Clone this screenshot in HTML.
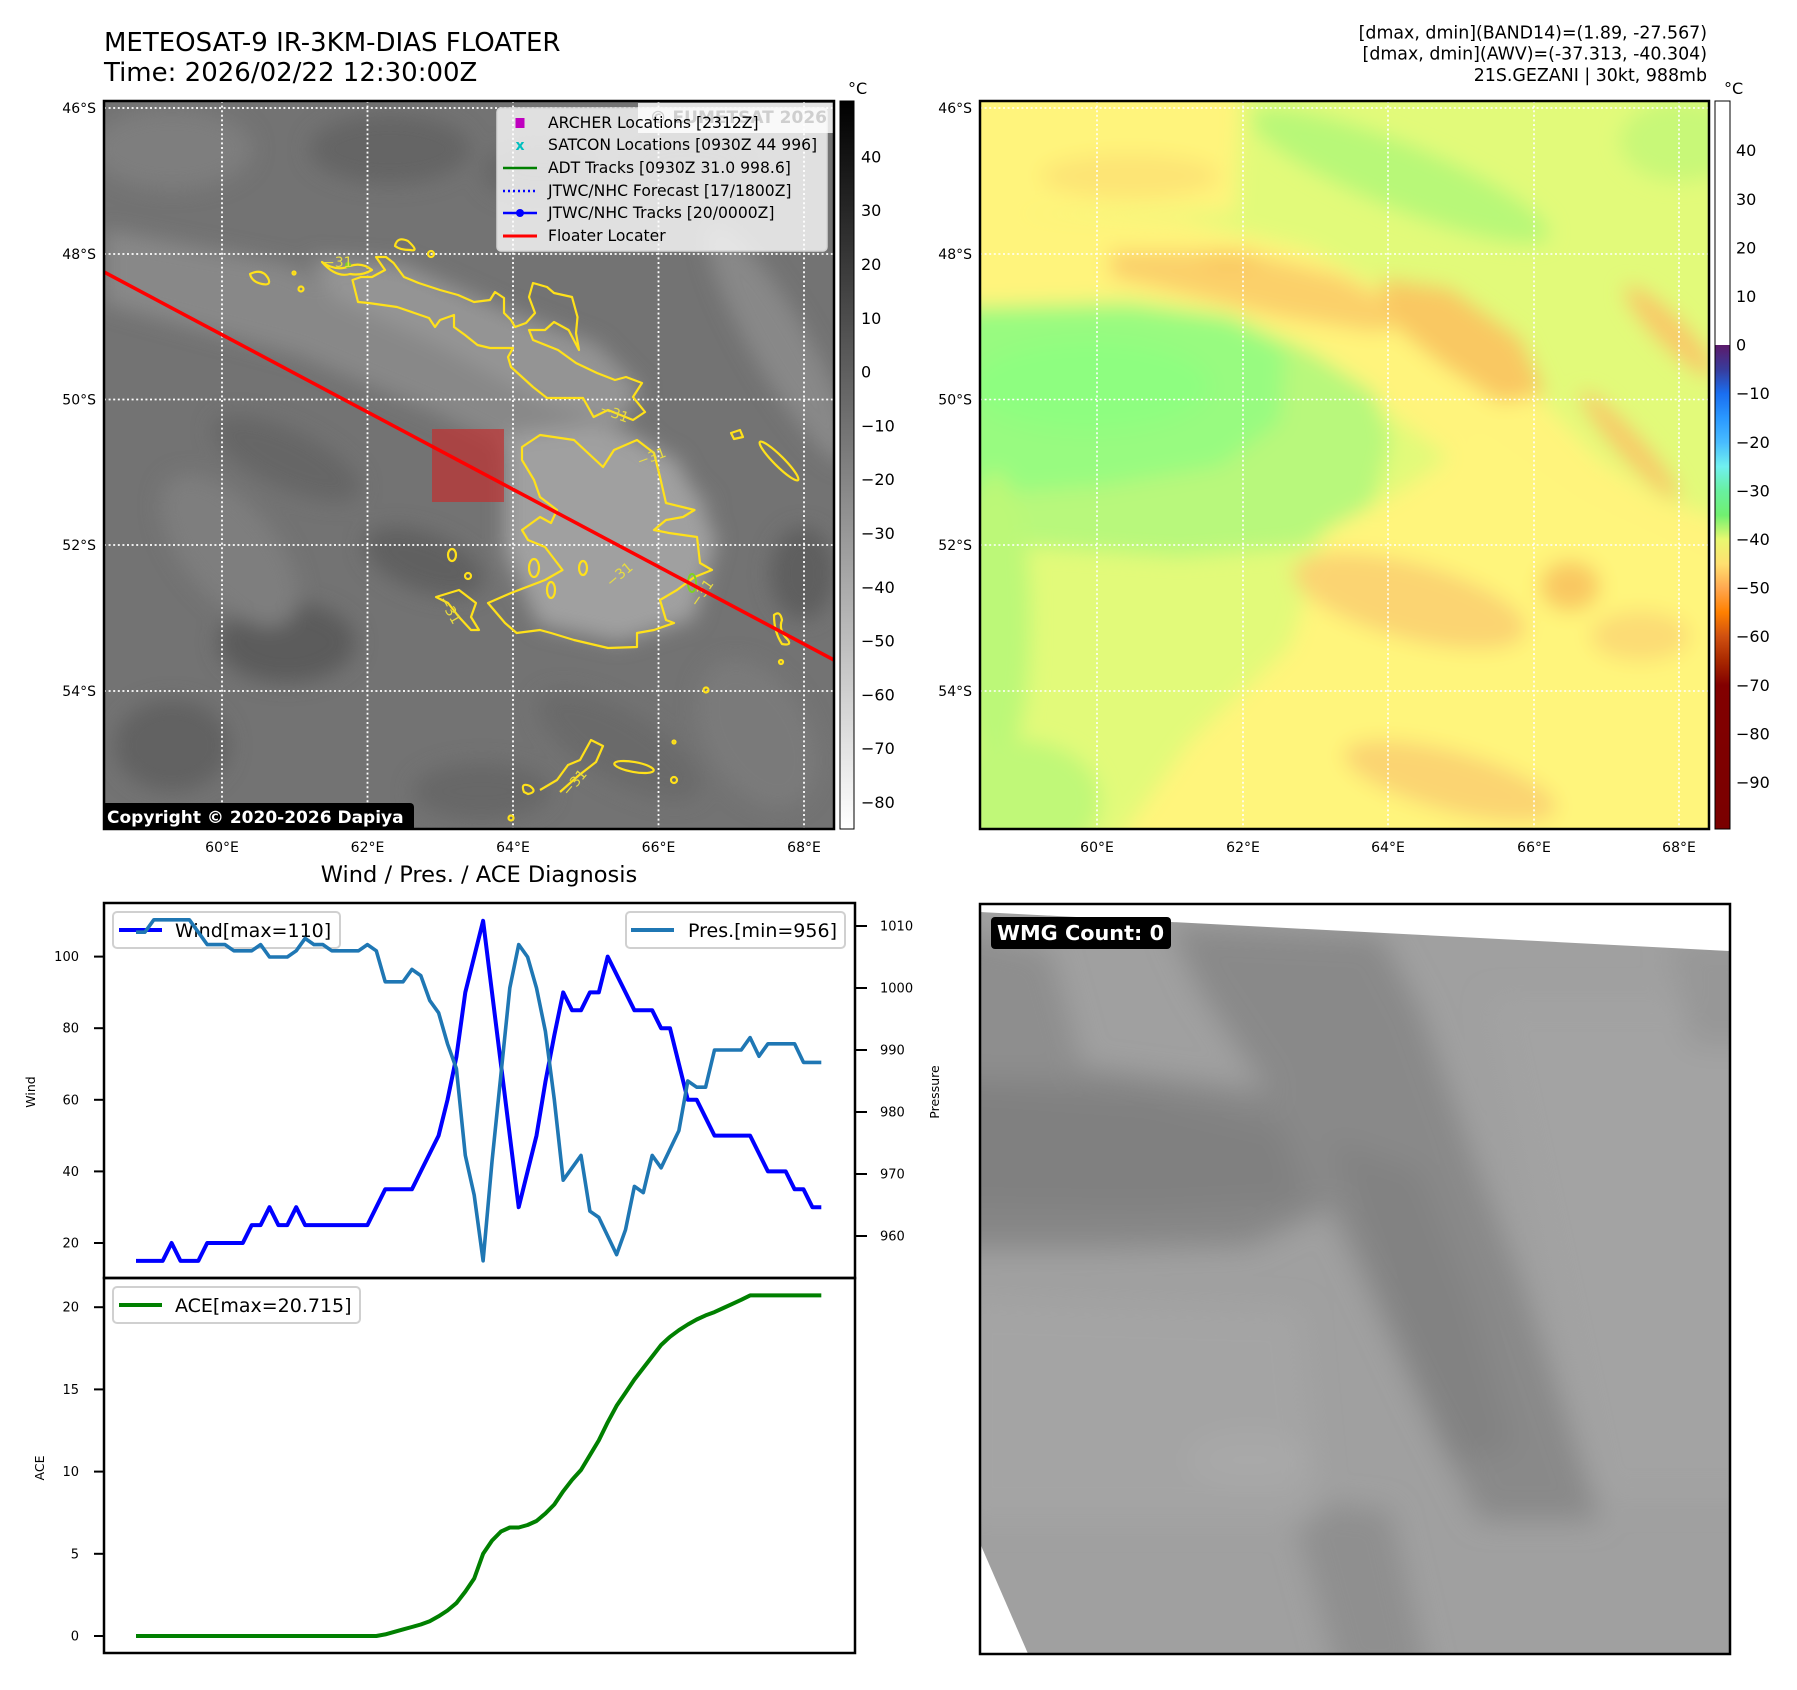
<!DOCTYPE html>
<html><head><meta charset="utf-8"><style>
html,body{margin:0;padding:0;background:#fff;}
svg{display:block;}
text{font-family:"DejaVu Sans","Liberation Sans",sans-serif;}
</style></head><body>
<svg width="1797" height="1690" viewBox="0 0 1797 1690" xmlns="http://www.w3.org/2000/svg">
<defs>
<filter id="b12" x="-20%" y="-20%" width="140%" height="140%"><feGaussianBlur stdDeviation="10"/></filter>
<filter id="b14" x="-20%" y="-20%" width="140%" height="140%"><feGaussianBlur stdDeviation="14"/></filter>
<clipPath id="cL"><rect x="104" y="101" width="730" height="728"/></clipPath>
<clipPath id="cR"><rect x="980" y="101" width="729" height="728"/></clipPath>
<clipPath id="cB"><rect x="980" y="904" width="750" height="750"/></clipPath>
<linearGradient id="gL" gradientUnits="userSpaceOnUse" x1="0" y1="101" x2="0" y2="829">
<stop offset="0" stop-color="#000"/><stop offset="1" stop-color="#fff"/></linearGradient>
<linearGradient id="gR" gradientUnits="userSpaceOnUse" x1="0" y1="101" x2="0" y2="829">
<stop offset="0" stop-color="#fff"/><stop offset="0.3351" stop-color="#fff"/>
<stop offset="0.3352" stop-color="#5c1a6a"/><stop offset="0.3686" stop-color="#383c9c"/>
<stop offset="0.4019" stop-color="#1a6ef0"/><stop offset="0.4353" stop-color="#2a98ff"/>
<stop offset="0.4687" stop-color="#48bcff"/><stop offset="0.502" stop-color="#70f0f0"/>
<stop offset="0.5354" stop-color="#68f0a0"/><stop offset="0.5688" stop-color="#70f070"/>
<stop offset="0.6022" stop-color="#e8f870"/><stop offset="0.6356" stop-color="#ffe070"/>
<stop offset="0.669" stop-color="#ffa850"/><stop offset="0.7023" stop-color="#ff8000"/>
<stop offset="0.7357" stop-color="#d05010"/><stop offset="0.769" stop-color="#a82800"/>
<stop offset="0.8024" stop-color="#820000"/><stop offset="1" stop-color="#7a0000"/>
</linearGradient>
</defs>

<!-- Titles -->
<text x="104" y="51" font-size="26">METEOSAT-9 IR-3KM-DIAS FLOATER</text>
<text x="104" y="81" font-size="26">Time: 2026/02/22 12:30:00Z</text>
<text x="1707" y="38.5" font-size="17.4" text-anchor="end">[dmax, dmin](BAND14)=(1.89, -27.567)</text>
<text x="1707" y="59.5" font-size="17.4" text-anchor="end">[dmax, dmin](AWV)=(-37.313, -40.304)</text>
<text x="1707" y="81" font-size="17.4" text-anchor="end">21S.GEZANI | 30kt, 988mb</text>

<!-- ============ LEFT MAP (IR) ============ -->
<g clip-path="url(#cL)">
<rect x="104" y="101" width="730" height="728" fill="#737373"/>
<g filter="url(#b12)">
<g transform="scale(1.1468)">
<ellipse cx="150" cy="130" rx="70" ry="35" fill="#7e7e7e"/>
<ellipse cx="340" cy="130" rx="70" ry="30" fill="#656565"/>
<ellipse cx="470" cy="150" rx="50" ry="25" fill="#686868"/>
<ellipse cx="600" cy="140" rx="60" ry="25" fill="#6c6c6c"/>
<polygon points="91,200 250,230 350,280 450,330 560,380 620,440 600,470 500,420 380,360 260,310 91,265" fill="#888"/>
<polygon points="270,225 350,230 440,270 520,300 560,340 540,370 470,350 380,300 290,260" fill="#949494"/>
<polygon points="440,380 520,370 590,400 625,470 605,540 540,560 470,545 440,480" fill="#a0a0a0"/>
<ellipse cx="250" cy="560" rx="60" ry="35" fill="#5c5c5c"/>
<ellipse cx="370" cy="490" rx="55" ry="25" transform="rotate(20 370 490)" fill="#606060"/>
<ellipse cx="150" cy="650" rx="50" ry="40" fill="#626262"/>
<ellipse cx="250" cy="400" rx="70" ry="25" transform="rotate(25 250 400)" fill="#666"/>
<ellipse cx="540" cy="650" rx="80" ry="30" transform="rotate(30 540 650)" fill="#6a6a6a"/>
<ellipse cx="420" cy="690" rx="60" ry="25" fill="#676767"/>
<ellipse cx="700" cy="500" rx="28" ry="40" fill="#5e5e5e"/>
<ellipse cx="680" cy="300" rx="25" ry="120" transform="rotate(-30 680 300)" fill="#888"/>
<ellipse cx="200" cy="480" rx="40" ry="80" transform="rotate(-40 200 480)" fill="#7e7e7e"/>
<ellipse cx="660" cy="640" rx="45" ry="70" transform="rotate(-30 660 640)" fill="#7a7a7a"/>
</g></g>
<g stroke="#fff" stroke-width="1.8" stroke-dasharray="2 2.6">
<line x1="104" y1="108" x2="834" y2="108"/><line x1="104" y1="254" x2="834" y2="254"/>
<line x1="104" y1="399.5" x2="834" y2="399.5"/><line x1="104" y1="545" x2="834" y2="545"/>
<line x1="104" y1="691" x2="834" y2="691"/>
<line x1="222" y1="101" x2="222" y2="829"/><line x1="367.5" y1="101" x2="367.5" y2="829"/>
<line x1="513" y1="101" x2="513" y2="829"/><line x1="658.5" y1="101" x2="658.5" y2="829"/>
<line x1="804" y1="101" x2="804" y2="829"/>
</g>
<g fill="none" stroke="#ffe11a" stroke-width="2.2" stroke-linejoin="round">
<path d="M352.5,280 L358,302 L368.6,303 L397,307 L429,318 L435,327 L440,320 L454,315 L454,327 L465,335 L477.5,345 L490,348 L513,348 L508,357 L511,367 L533,387 L547,398 L560,398 L583,398 L593.6,417 L608,410 L633,420 L645,412 L633,397 L642,383 L626,377 L615,380 L597,373 L576,363 L558,350 L533,340 L529,330 L545,330 L554,322 L568.6,330 L579,350 L576,333 L577.5,317 L572,297 L554,293 L547,287 L533,283 L529,297 L535,313 L526,323 L515,327 L511,320 L504,313 L504,298 L495,292 L490,300 L474,302 L458,295 L440,290 L418.6,283 L404,277 L393.6,263 L386,257 L376,257 L385,270 L372,277 L361,277 Z"/>
<path d="M322,262 Q336,272 350,266 Q362,262 372,270 Q362,276 350,274 Q336,278 322,262 Z"/>
<path d="M250,274 Q262,268 268,278 Q272,286 262,284 Q252,282 250,274 Z"/>
<path d="M395,246 Q397,236 408,241 Q420,252 410,250 Q400,250 395,246 Z"/>
<circle cx="431" cy="254" r="3"/><circle cx="294" cy="273" r="1.5"/><circle cx="301" cy="289" r="2.5"/>
<path d="M522,447 L540,435 L574,440 L603,467 L614,450 L637,440 L654,453 L660,477 L666,503 L694.5,510 L683,517 L666,520 L654,530 L669,533 L697,537 L700,563 L712,570 L694.5,577 L677,590 L660,600 L666,620 L674,623 L654,630 L637,633 L637,647 L608,648 L574,640 L551,633 L540,630 L516.6,633 L505,623 L488,603 L511,593 L545,580 L562.5,570 L545,547 L528,540 L522,530 L540,517 L551,523 L557,510 L540,497 L534,480 L522,460 Z"/>
<path d="M436,597 L459,590 L476,603 L471,617 L479,630 L471,630 L459,617 L448,603 Z"/>
<ellipse cx="452" cy="555" rx="4" ry="6"/><ellipse cx="534" cy="568" rx="5" ry="9"/>
<ellipse cx="583" cy="568" rx="4" ry="7"/><ellipse cx="551" cy="590" rx="4" ry="8"/>
<circle cx="468" cy="576" r="3"/>
<ellipse cx="779" cy="461" rx="27" ry="5" transform="rotate(45 779 461)"/>
<path d="M731,433 L740,430 L743,437 L734,439 Z"/>
<path d="M774,615 Q780,610 782,620 Q778,630 788,640 Q792,646 782,644 Q774,632 774,615 Z"/>
<circle cx="781" cy="662" r="2"/><circle cx="706" cy="690" r="2.5"/><circle cx="674" cy="742" r="1.5"/>
<path d="M524,792 Q520,782 530,786 Q538,792 528,794 Z"/>
<path d="M540,790 L557,780 L568,765 L580,760 L591,740 L603,746 L596,762 L578,776 L560,792"/>
<ellipse cx="634" cy="767" rx="20" ry="5" transform="rotate(10 634 767)"/>
<circle cx="674" cy="780" r="3"/><circle cx="511" cy="818" r="2.5"/>
</g>
<ellipse cx="692" cy="583" rx="4" ry="9" fill="none" stroke="#7ed321" stroke-width="2"/>
<circle cx="348" cy="265" r="3" fill="#7ed321"/>
<g fill="#e8dc40" font-size="14">
<text x="323" y="267">−31</text>
<text x="600" y="418" transform="rotate(20 615 412)">−31</text>
<text x="636" y="462" transform="rotate(-20 650 455)">−31</text>
<text x="604" y="580" transform="rotate(-40 618 574)">−31</text>
<text x="436" y="612" transform="rotate(60 448 608)">−31</text>
<text x="558" y="786" transform="rotate(-50 575 780)">−31</text>
<text x="688" y="600" transform="rotate(-55 700 595)">−31</text>
</g>
<rect x="432" y="429" width="72" height="73" fill="#c03030" fill-opacity="0.7"/>
<line x1="104" y1="272" x2="834" y2="660" stroke="#ff0000" stroke-width="3.6"/>
<rect x="497" y="108" width="330" height="143" rx="4" fill="#fff" fill-opacity="0.78" stroke="#d5d5d5" stroke-width="1.5"/>
<rect x="638" y="103" width="196" height="30" fill="#fff" fill-opacity="0.8"/>
<text x="827" y="123" font-size="17" font-weight="bold" fill="#cfcfcf" text-anchor="end">© EUMETSAT 2026</text>
<rect x="515.5" y="118" width="9" height="10" fill="#bf00bf"/>
<text x="520" y="150" font-size="14" font-weight="bold" fill="#00bfbf" text-anchor="middle">x</text>
<line x1="503" y1="168" x2="537" y2="168" stroke="#008000" stroke-width="2.5"/>
<line x1="503" y1="191" x2="537" y2="191" stroke="#0000ff" stroke-width="2.5" stroke-dasharray="2 3"/>
<line x1="503" y1="213" x2="537" y2="213" stroke="#0000ff" stroke-width="2.5"/>
<circle cx="520" cy="213" r="4" fill="#0000ff"/>
<line x1="503" y1="236" x2="537" y2="236" stroke="#ff0000" stroke-width="3"/>
<g font-size="15.6" fill="#000">
<text x="548" y="128">ARCHER Locations [2312Z]</text>
<text x="548" y="150">SATCON Locations [0930Z 44 996]</text>
<text x="548" y="173">ADT Tracks [0930Z 31.0 998.6]</text>
<text x="548" y="196">JTWC/NHC Forecast [17/1800Z]</text>
<text x="548" y="218">JTWC/NHC Tracks [20/0000Z]</text>
<text x="548" y="241">Floater Locater</text>
</g>
<rect x="102" y="803" width="312" height="29" rx="4" fill="#000"/>
<text x="107" y="823" font-size="17" font-weight="bold" fill="#fff">Copyright © 2020-2026 Dapiya</text>
</g>
<rect x="104" y="101" width="730" height="728" fill="none" stroke="#000" stroke-width="2.5"/>
<g font-size="14" text-anchor="end">
<text x="96" y="113">46°S</text><text x="96" y="259">48°S</text><text x="96" y="404.5">50°S</text>
<text x="96" y="550">52°S</text><text x="96" y="696">54°S</text>
</g>
<g font-size="14" text-anchor="middle">
<text x="222" y="852">60°E</text><text x="367.5" y="852">62°E</text><text x="513" y="852">64°E</text>
<text x="658.5" y="852">66°E</text><text x="804" y="852">68°E</text>
</g>
<rect x="840" y="101" width="14" height="728" fill="url(#gL)" stroke="#000" stroke-width="1"/>
<text x="848" y="94" font-size="16">°C</text>
<g font-size="16">
<text x="861" y="162.5">40</text><text x="861" y="216">30</text><text x="861" y="270">20</text>
<text x="861" y="324">10</text><text x="861" y="377.5">0</text><text x="861" y="431.5">−10</text>
<text x="861" y="485">−20</text><text x="861" y="539">−30</text><text x="861" y="593">−40</text>
<text x="861" y="646.5">−50</text><text x="861" y="700.5">−60</text><text x="861" y="754">−70</text>
<text x="861" y="808">−80</text>
</g>

<!-- ============ RIGHT MAP (colour) ============ -->
<g clip-path="url(#cR)">
<rect x="980" y="101" width="729" height="728" fill="#e2fa7a"/>
<g filter="url(#b12)">
<g transform="translate(980 101)">
<polygon points="-20,-20 262,-20 255,112 -20,112" fill="#fff47c"/>
<ellipse cx="150" cy="75" rx="90" ry="22" fill="#fde474"/>
<ellipse cx="420" cy="75" rx="160" ry="32" transform="rotate(22 420 75)" fill="#b8f878"/>
<ellipse cx="700" cy="40" rx="60" ry="40" fill="#c8f878"/>
<polygon points="-20,110 200,118 330,148 420,198 500,258 560,298 620,358 680,398 750,420 750,510 600,445 480,365 400,305 320,245 200,212 -20,208" fill="#fff47c"/>
<polygon points="130,150 260,150 360,175 430,210 400,232 300,216 200,192 130,176" fill="#fbd06a"/>
<polygon points="400,178 470,188 540,238 565,292 520,302 460,262 410,222" fill="#f9c862"/>
<ellipse cx="250" cy="160" rx="30" ry="10" fill="#f9c862"/>
<ellipse cx="690" cy="230" rx="62" ry="14" transform="rotate(45 690 230)" fill="#f9c868"/>
<ellipse cx="650" cy="345" rx="72" ry="12" transform="rotate(48 650 345)" fill="#f9c868"/>
<polygon points="-20,205 150,200 250,214 330,250 395,292 410,340 390,410 320,445 200,455 -20,440" fill="#b8f87c"/>
<polygon points="-20,212 150,208 250,220 305,250 300,320 240,365 120,385 -20,395" fill="#98fb80"/>
<ellipse cx="110" cy="285" rx="120" ry="45" fill="#8efe80"/>
<ellipse cx="15" cy="520" rx="35" ry="150" fill="#bcf878"/>
<ellipse cx="40" cy="700" rx="80" ry="60" fill="#c0f878"/>
<polygon points="345,430 420,390 500,335 600,405 750,475 750,750 130,750 210,640 310,545" fill="#fff57c"/>
<ellipse cx="430" cy="500" rx="120" ry="38" transform="rotate(15 430 500)" fill="#fbd472"/>
<ellipse cx="590" cy="485" rx="30" ry="25" fill="#f9c862"/>
<ellipse cx="470" cy="680" rx="110" ry="30" transform="rotate(15 470 680)" fill="#fbd472"/>
<ellipse cx="660" cy="535" rx="50" ry="25" fill="#fcdc74"/>
</g></g>
<g stroke="#fff" stroke-width="1.6" stroke-dasharray="2 2.6">
<line x1="980" y1="108" x2="1709" y2="108"/><line x1="980" y1="254" x2="1709" y2="254"/>
<line x1="980" y1="399.5" x2="1709" y2="399.5"/><line x1="980" y1="545" x2="1709" y2="545"/>
<line x1="980" y1="691" x2="1709" y2="691"/>
<line x1="1097" y1="101" x2="1097" y2="829"/><line x1="1243" y1="101" x2="1243" y2="829"/>
<line x1="1388" y1="101" x2="1388" y2="829"/><line x1="1534" y1="101" x2="1534" y2="829"/>
<line x1="1679" y1="101" x2="1679" y2="829"/>
</g>
</g>
<rect x="980" y="101" width="729" height="728" fill="none" stroke="#000" stroke-width="2.5"/>
<g font-size="14" text-anchor="end">
<text x="972" y="113">46°S</text><text x="972" y="259">48°S</text><text x="972" y="404.5">50°S</text>
<text x="972" y="550">52°S</text><text x="972" y="696">54°S</text>
</g>
<g font-size="14" text-anchor="middle">
<text x="1097" y="852">60°E</text><text x="1243" y="852">62°E</text><text x="1388" y="852">64°E</text>
<text x="1534" y="852">66°E</text><text x="1679" y="852">68°E</text>
</g>
<rect x="1715" y="101" width="15" height="728" fill="url(#gR)" stroke="#000" stroke-width="1"/>
<text x="1724" y="94" font-size="16">°C</text>
<g font-size="16">
<text x="1736" y="156">40</text><text x="1736" y="205">30</text><text x="1736" y="253.5">20</text>
<text x="1736" y="302">10</text><text x="1736" y="350.5">0</text><text x="1736" y="399">−10</text>
<text x="1736" y="448">−20</text><text x="1736" y="496.5">−30</text><text x="1736" y="545">−40</text>
<text x="1736" y="593.5">−50</text><text x="1736" y="642">−60</text><text x="1736" y="691">−70</text>
<text x="1736" y="739.5">−80</text><text x="1736" y="788">−90</text>
</g>

<!-- ============ WIND / PRES / ACE ============ -->
<text x="479" y="882" font-size="22.5" text-anchor="middle">Wind / Pres. / ACE Diagnosis</text>
<g stroke="#000" stroke-width="2">
<line x1="94" y1="1243" x2="104" y2="1243"/><line x1="94" y1="1171.4" x2="104" y2="1171.4"/>
<line x1="94" y1="1099.8" x2="104" y2="1099.8"/><line x1="94" y1="1028.2" x2="104" y2="1028.2"/>
<line x1="94" y1="956.6" x2="104" y2="956.6"/>
<line x1="855" y1="1236" x2="867" y2="1236"/><line x1="855" y1="1174" x2="867" y2="1174"/>
<line x1="855" y1="1112" x2="867" y2="1112"/><line x1="855" y1="1050" x2="867" y2="1050"/>
<line x1="855" y1="988" x2="867" y2="988"/><line x1="855" y1="926" x2="867" y2="926"/>
<line x1="94" y1="1636" x2="104" y2="1636"/><line x1="94" y1="1553.8" x2="104" y2="1553.8"/>
<line x1="94" y1="1471.6" x2="104" y2="1471.6"/><line x1="94" y1="1389.4" x2="104" y2="1389.4"/>
<line x1="94" y1="1307.2" x2="104" y2="1307.2"/>
</g>
<g font-size="13" text-anchor="end">
<text x="79" y="1247.5">20</text><text x="79" y="1176">40</text><text x="79" y="1104.3">60</text>
<text x="79" y="1032.7">80</text><text x="79" y="961">100</text>
<text x="79" y="1640.5">0</text><text x="79" y="1558.3">5</text><text x="79" y="1476">10</text>
<text x="79" y="1394">15</text><text x="79" y="1311.7">20</text>
</g>
<g font-size="13">
<text x="880" y="1240.5">960</text><text x="880" y="1178.5">970</text><text x="880" y="1116.5">980</text>
<text x="880" y="1054.5">990</text><text x="880" y="992.5">1000</text><text x="880" y="930.5">1010</text>
</g>
<text font-size="12.5" text-anchor="middle" transform="translate(35 1092) rotate(-90)">Wind</text>
<text font-size="12.5" text-anchor="middle" transform="translate(939 1092) rotate(-90)">Pressure</text>
<text font-size="12.5" text-anchor="middle" transform="translate(44 1468) rotate(-90)">ACE</text>

<polyline fill="none" stroke="#0000ff" stroke-width="4" stroke-linejoin="round" points="136,1260.9 162.7,1260.9 171.6,1243 180.5,1260.9 198.3,1260.9 207.2,1243 242.8,1243 251.7,1225.1 260.6,1225.1 269.5,1207.2 278.4,1225.1 287.3,1225.1 296.2,1207.2 305.1,1225.1 367.4,1225.1 376.3,1207.2 385.2,1189.3 411.9,1189.3 420.8,1171.4 429.7,1153.5 438.6,1135.6 447.5,1099.8 456.4,1056.8 465.3,992.4 474.2,956.6 483.1,920.8 492,992.4 500.9,1064 509.8,1135.6 518.7,1207.2 527.6,1171.4 536.5,1135.6 545.4,1081.9 554.3,1035.4 563.2,992.4 572.1,1010.3 581,1010.3 589.9,992.4 598.8,992.4 607.7,956.6 616.6,974.5 625.5,992.4 634.4,1010.3 652.2,1010.3 661.1,1028.2 670,1028.2 678.9,1064 687.8,1099.8 696.7,1099.8 705.6,1117.7 714.5,1135.6 750.1,1135.6 759,1153.5 767.9,1171.4 785.7,1171.4 794.6,1189.3 803.5,1189.3 812.4,1207.2 821.3,1207.2"/>
<rect x="113" y="912" width="227" height="36" rx="4" fill="#fff" fill-opacity="0.8" stroke="#d0d0d0" stroke-width="2"/>
<line x1="119" y1="930" x2="162" y2="930" stroke="#0000ff" stroke-width="4"/>
<text x="175" y="937" font-size="19">Wind[max=110]</text>
<polyline fill="none" stroke="#1f77b4" stroke-width="3.6" stroke-linejoin="round" points="136,932.2 144.9,932.2 153.8,919.8 189.4,919.8 198.3,932.2 207.2,944.6 225,944.6 233.9,950.8 251.7,950.8 260.6,944.6 269.5,957 287.3,957 296.2,950.8 305.1,938.4 314,944.6 322.9,944.6 331.8,950.8 358.5,950.8 367.4,944.6 376.3,950.8 385.2,981.8 403,981.8 411.9,969.4 420.8,975.6 429.7,1000.4 438.6,1012.8 447.5,1043.8 456.4,1068.6 465.3,1155.4 474.2,1195.1 483.1,1260.8 492,1161.6 500.9,1074.8 509.8,988 518.7,944.6 527.6,957 536.5,988 545.4,1031.4 554.3,1099.6 563.2,1180.2 572.1,1167.8 581,1155.4 589.9,1211.2 598.8,1217.4 607.7,1236 616.6,1254.6 625.5,1229.8 634.4,1186.4 643.3,1192.6 652.2,1155.4 661.1,1167.8 670,1149.2 678.9,1130.6 687.8,1081 696.7,1087.2 705.6,1087.2 714.5,1050 741.2,1050 750.1,1037.6 759,1056.2 767.9,1043.8 794.6,1043.8 803.5,1062.4 821.3,1062.4"/>
<rect x="626" y="912" width="219" height="36" rx="4" fill="#fff" fill-opacity="0.8" stroke="#d0d0d0" stroke-width="2"/>
<line x1="631" y1="930" x2="674" y2="930" stroke="#1f77b4" stroke-width="4"/>
<text x="688" y="937" font-size="19">Pres.[min=956]</text>
<polyline fill="none" stroke="#008000" stroke-width="4" stroke-linejoin="round" points="136,1636 376.3,1636 385.2,1634.4 394.1,1631.9 403,1629.4 411.9,1627 420.8,1624.5 429.7,1621.2 438.6,1616.3 447.5,1610.5 456.4,1603.1 465.3,1591.6 474.2,1578.5 483.1,1553.8 492,1540.6 500.9,1531.6 509.8,1527.5 518.7,1527.5 527.6,1525 536.5,1521 545.4,1513.5 554.3,1504.5 563.2,1491.3 572.1,1479.8 581,1470 589.9,1455.2 598.8,1440.4 607.7,1422.3 616.6,1405.8 625.5,1392.7 634.4,1379.5 643.3,1368 652.2,1356.5 661.1,1345 670,1336.8 678.9,1330.2 687.8,1324.5 696.7,1319.5 705.6,1315.4 714.5,1312.1 723.4,1308 732.3,1303.9 741.2,1299.8 750.1,1295.4 821.3,1295.4"/>
<rect x="113" y="1287" width="247" height="36" rx="4" fill="#fff" fill-opacity="0.8" stroke="#d0d0d0" stroke-width="2"/>
<line x1="119" y1="1305" x2="162" y2="1305" stroke="#008000" stroke-width="4"/>
<text x="175" y="1312" font-size="19">ACE[max=20.715]</text>
<rect x="104" y="903" width="751" height="375" fill="none" stroke="#000" stroke-width="2.5"/>
<rect x="104" y="1278" width="751" height="375" fill="none" stroke="#000" stroke-width="2.5"/>

<!-- ============ BOTTOM-RIGHT GRAY FIELD ============ -->
<g clip-path="url(#cB)">
<rect x="980" y="904" width="750" height="750" fill="#a0a0a0"/>
<g filter="url(#b14)">
<polygon points="940,1060 1100,1070 1250,1090 1330,1105 1345,1200 1250,1245 1100,1248 940,1248" fill="#868686"/>
<polygon points="940,1085 1150,1100 1280,1130 1300,1200 1150,1208 940,1205" fill="#808080"/>
<polygon points="1170,925 1380,935 1420,1010 1470,1150 1520,1280 1600,1520 1480,1520 1420,1400 1350,1250 1280,1110 1200,990" fill="#898989"/>
<polygon points="1330,1140 1420,1170 1470,1300 1515,1450 1450,1460 1400,1330" fill="#828282"/>
<polygon points="940,925 1050,950 1085,1075 940,1075" fill="#8e8e8e"/>
<polygon points="1290,1500 1390,1510 1430,1680 1340,1680" fill="#8f8f8f"/>
<polygon points="960,1300 1300,1310 1320,1520 960,1520" fill="#a4a4a4"/>
<polygon points="1490,1000 1760,1000 1760,1500 1600,1500" fill="#a3a3a3"/>
<ellipse cx="1250" cy="1460" rx="60" ry="25" fill="#a9a9a9"/>
<polygon points="1670,940 1760,940 1760,1045 1690,1045" fill="#979797"/>
</g>
<polygon points="979,903 1731,903 1731,951 1729,951 980,912" fill="#fff"/>
<polygon points="979,1541 1029,1656 979,1656" fill="#fff"/>
</g>
<rect x="980" y="904" width="750" height="750" fill="none" stroke="#000" stroke-width="2.5"/>
<rect x="991" y="917" width="180" height="32" rx="4" fill="#000"/>
<text x="997" y="940" font-size="20.8" font-weight="bold" fill="#fff">WMG Count: 0</text>
</svg>
</body></html>
